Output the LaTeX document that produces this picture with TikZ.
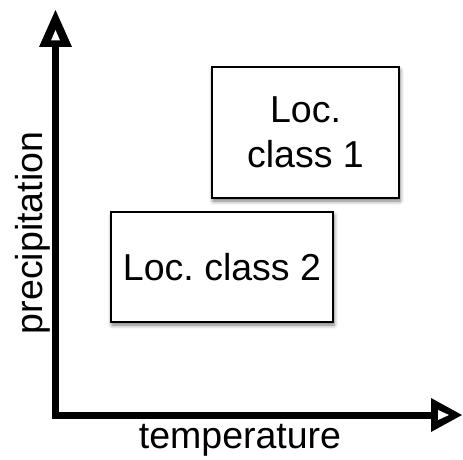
\documentclass[tikz,border=0pt]{standalone}
\usepackage{fontspec}
\setmainfont{Liberation Sans}
\usetikzlibrary{shadows.blur}
\frenchspacing
\tikzset{
  classbox/.style={draw=black, line width=2pt, fill=white, inner sep=0pt,
    align=center, font=\fontsize{37.5}{45}\selectfont,
    blur shadow={shadow xshift=1pt, shadow yshift=-3pt, shadow blur radius=4pt, shadow opacity=55}},
  axislabel/.style={inner sep=0pt, font=\fontsize{37.5}{45}\selectfont},
  axisline/.style={line width=7pt, line join=miter},
}
\begin{document}
\begin{tikzpicture}[x=1pt, y=-1pt]
\useasboundingbox (0,0) rectangle (463,460);
% axes
\coordinate (origin) at (55,415);
\coordinate (ytop) at (55,46);
\coordinate (xend) at (432,415);
\draw[axisline] (ytop) -- (origin) -- (xend);
\draw[axisline, line width=7pt] (origin) -- ++(0,3.5);
% arrowheads (open triangles with thick outline)
\fill[black] (55.5,10) -- (72,47) -- (39,47) -- cycle;
\fill[white] (55.5,30) -- (60,40.5) -- (51,40.5) -- cycle;
\fill[black] (462,415) -- (431,432) -- (431,398) -- cycle;
\fill[white] (449,415) -- (438,420) -- (438,410) -- cycle;
% boxes
\node[classbox, minimum width=187pt, minimum height=131pt] (c1) at (305.5,132.5) {Loc.\\class 1};
\node[classbox, minimum width=222pt, minimum height=110pt] (c2) at (222,267) {Loc. class 2};
% axis labels
\node[axislabel, rotate=90, anchor=base] (plab) at (42,233) {precipitation};
\node[axislabel, anchor=base] (tlab) at (240,448) {temperature};
\end{tikzpicture}
\end{document}
